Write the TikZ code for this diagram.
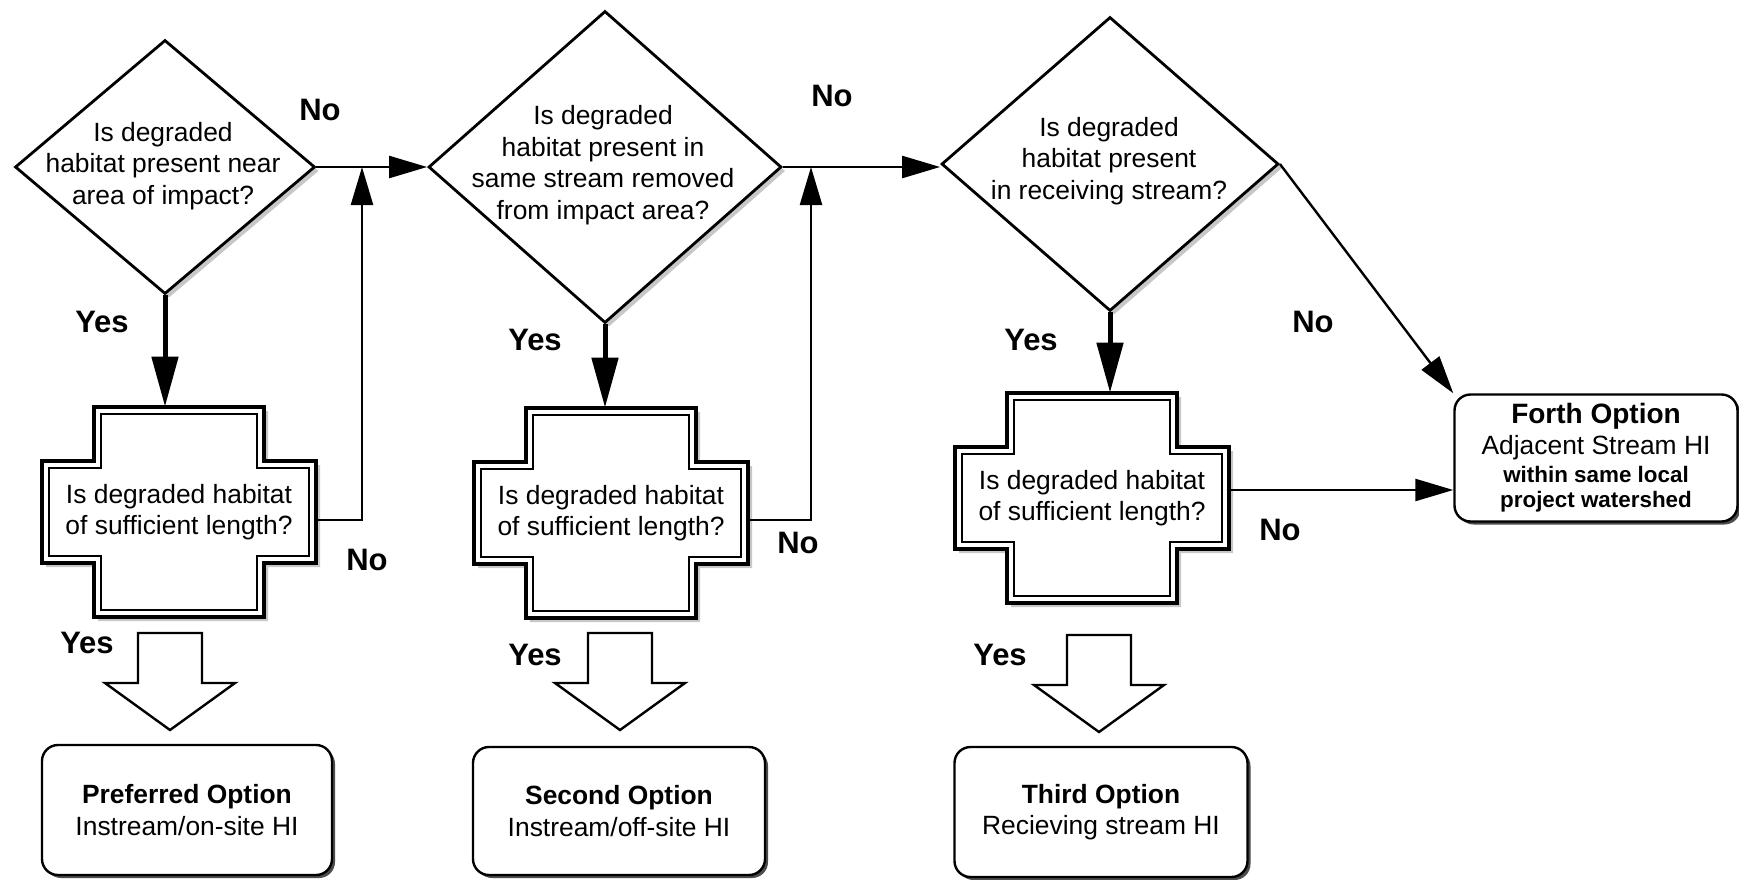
\documentclass[tikz,border=0pt]{standalone}
\usepackage{fontspec}
\setmainfont{Liberation Sans}
\usetikzlibrary{arrows.meta,shapes.geometric,shadows,calc}
\newcommand\myqf{\fontsize{13.2}{15.8}\selectfont}
\newcommand\mylf{\bfseries\fontsize{15.5}{18}\selectfont}
\newcommand\mytf{\bfseries\fontsize{14}{16}\selectfont}
\newcommand\mysf{\bfseries\fontsize{11.2}{12}\selectfont}
\begin{document}
\begin{tikzpicture}[x=0.5pt,y=-0.5pt,
  shade/.style={drop shadow={shadow xshift=2pt,shadow yshift=-2pt,fill=black!22,opacity=1}},
  diamondbox/.style={diamond,draw,line width=1.4pt,fill=white,inner sep=0pt,shade},
  qtext/.style={align=center,font=\myqf,inner sep=0pt},
  crossnode/.style={rectangle,minimum width=137pt,minimum height=105pt,inner sep=0pt,align=center,font=\myqf},
  optbox/.style={draw,line width=1.2pt,rounded corners=8pt,fill=white,align=center,font=\myqf,
     drop shadow={shadow xshift=1.5pt,shadow yshift=-1.5pt,fill=black!70,opacity=1}},
  lbl/.style={font=\mylf,inner sep=0pt},
  thinarrow/.style={line width=1.2pt,-{Triangle[length=19pt,width=11pt]}},
  thickarrow/.style={line width=2.5pt,-{Triangle[length=25pt,width=13pt]}},
  crossshape/.pic={
    \begin{scope}[shift={(4,4)}]
      \fill[black!22] (-85,-105) -- (85,-105) -- (85,-51) -- (137,-51) -- (137,51) -- (85,51) -- (85,105) -- (-85,105) -- (-85,51) -- (-137,51) -- (-137,-51) -- (-85,-51) -- cycle;
    \end{scope}
    \draw[line width=2pt,fill=white] (-85,-105) -- (85,-105) -- (85,-51) -- (137,-51) -- (137,51) -- (85,51) -- (85,105) -- (-85,105) -- (-85,51) -- (-137,51) -- (-137,-51) -- (-85,-51) -- cycle;
    \draw[line width=0.9pt] (-78,-98) -- (78,-98) -- (78,-44) -- (130,-44) -- (130,44) -- (78,44) -- (78,98) -- (-78,98) -- (-78,44) -- (-130,44) -- (-130,-44) -- (-78,-44) -- cycle;
  },
  blockarrow/.pic={
    \draw[line width=1.2pt,fill=white] (-32,0) -- (32,0) -- (32,50) -- (65,50) -- (0,97) -- (-65,50) -- (-32,50) -- cycle;
  }
]
\useasboundingbox (0,0) rectangle (1739,879);

% decision diamonds
\node[diamondbox,minimum width=150pt,minimum height=127pt] (d1) at (165,167) {};
\node[qtext] (d1t) at (163,166) {Is degraded\\habitat present near\\area of impact?};
\node[diamondbox,minimum width=176.5pt,minimum height=156pt] (d2) at (605,167) {};
\node[qtext] (d2t) at (603,165) {Is degraded\\habitat present in\\same stream removed\\from impact area?};
\node[diamondbox,minimum width=168.5pt,minimum height=147pt] (d3) at (1110,164) {};
\node[qtext] (d3t) at (1109,161) {Is degraded\\habitat present\\in receiving stream?};

% cross-shaped checks
\pic at (179,512) {crossshape};
\node[crossnode] (c1) at (179,512) {Is degraded habitat\\of sufficient length?};
\pic at (611,513) {crossshape};
\node[crossnode] (c2) at (611,513) {Is degraded habitat\\of sufficient length?};
\pic at (1092,498) {crossshape};
\node[crossnode] (c3) at (1092,498) {Is degraded habitat\\of sufficient length?};

% option boxes
\node[optbox,minimum width=145pt,minimum height=65pt] (o1) at (187,810) {\textbf{Preferred Option}\\Instream/on-site HI};
\node[optbox,minimum width=146pt,minimum height=64pt] (o2) at (619,811) {\textbf{Second Option}\\Instream/off-site HI};
\node[optbox,minimum width=146.5pt,minimum height=65pt] (o3) at (1101,812) {\textbf{Third Option}\\Recieving stream HI};
\node[optbox,minimum width=141.5pt,minimum height=63.5pt] (o4) at (1596,458) {{\mytf Forth Option}\\[-0.5pt]Adjacent Stream HI\\[-2pt]{\mysf within same local}\\[-3pt]{\mysf project watershed}};

% block arrows
\pic at (170,633) {blockarrow};
\pic at (620,633) {blockarrow};
\pic at (1099,635) {blockarrow};

% junction points
\coordinate (j1) at (362,167);
\coordinate (j2) at (811,167);

% connectors
\draw[thinarrow] (d1.east) -- (d2.west);
\draw[thinarrow] ([yshift=-4pt]c1.east) -| (j1);
\draw[thinarrow] (d2.east) -- (d2.east -| d3.west);
\draw[thinarrow] ([yshift=-3.5pt]c2.east) -| (j2);
\draw[thinarrow] (d3.east) -- (o4.north west);
\draw[thinarrow] ([yshift=4pt]c3.east) -- ([yshift=4pt]c3.east -| o4.west);
\draw[thickarrow] (d1.south) -- (d1.south |- c1.north);
\draw[thickarrow] (d2.south) -- (d2.south |- c2.north);
\draw[thickarrow] (d3.south) -- (d3.south |- c3.north);

% labels
\node[lbl] (n1) at (320,110) {No};
\node[lbl] (y1) at (102,322) {Yes};
\node[lbl] (n2) at (367,560) {No};
\node[lbl] (y2) at (87,643) {Yes};
\node[lbl] (n3) at (832,96) {No};
\node[lbl] (y3) at (535,340) {Yes};
\node[lbl] (n4) at (798,543) {No};
\node[lbl] (y4) at (535,655) {Yes};
\node[lbl] (y5) at (1031,340) {Yes};
\node[lbl] (n5) at (1313,322) {No};
\node[lbl] (n6) at (1280,530) {No};
\node[lbl] (y6) at (1000,655) {Yes};
\end{tikzpicture}
\end{document}
